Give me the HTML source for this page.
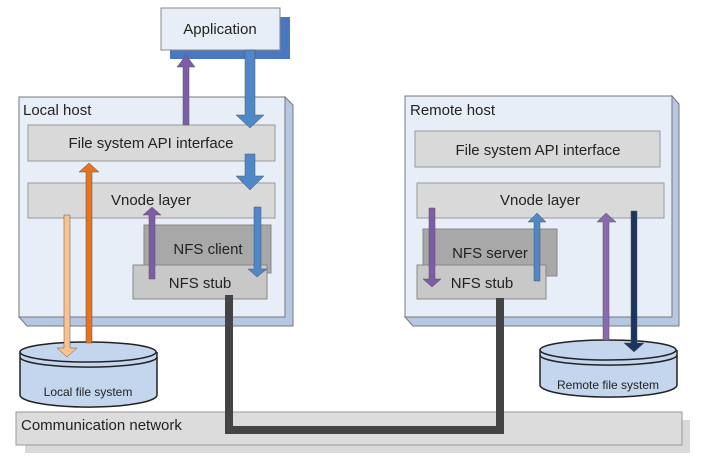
<!DOCTYPE html>
<html><head><style>body{margin:0;background:#fff}svg{display:block}text{font-family:"Liberation Sans",sans-serif;fill:#222}</style></head>
<body>
<svg width="701" height="461" viewBox="0 0 701 461" xmlns="http://www.w3.org/2000/svg">
<!-- network -->
<rect x="25" y="420" width="665" height="33" fill="#d9d9d9"/>
<rect x="16" y="412" width="666" height="33" fill="#dcdcdc" stroke="#999"/>
<text x="21" y="430" font-size="15">Communication network</text>
<!-- application -->
<rect x="170" y="17" width="120" height="42" fill="#4a78c0"/>
<rect x="161" y="8" width="119" height="42" fill="#e8eef8" stroke="#888"/>
<text x="220" y="34" font-size="15" text-anchor="middle">Application</text>
<!-- local host -->
<polygon points="285,97 293,105 293,326 27,326 19,317 285,317" fill="#b4c8e4" stroke="#777"/>
<rect x="19" y="97" width="266" height="220" fill="#e8eef8" stroke="#777"/>
<text x="23" y="115" font-size="15">Local host</text>
<rect x="28" y="125" width="247" height="36" fill="#d9d9d9" stroke="#999"/>
<text x="151" y="148" font-size="15" text-anchor="middle">File system API interface</text>
<rect x="28" y="183" width="247" height="35" fill="#d9d9d9" stroke="#999"/>
<text x="151" y="205" font-size="15" text-anchor="middle">Vnode layer</text>
<rect x="144" y="225" width="127" height="48" fill="#a8a8a8" stroke="#888"/>
<text x="208" y="254" font-size="15" text-anchor="middle">NFS client</text>
<rect x="133" y="265" width="134" height="34" fill="#c8c8c8" stroke="#888"/>
<text x="200" y="288" font-size="15" text-anchor="middle">NFS stub</text>
<!-- remote host -->
<polygon points="672,96 679,104 679,326 413,326 405,317 672,317" fill="#b4c8e4" stroke="#777"/>
<rect x="405" y="96" width="267" height="221" fill="#e8eef8" stroke="#777"/>
<text x="410" y="115" font-size="15">Remote host</text>
<rect x="415" y="131" width="245" height="36" fill="#d9d9d9" stroke="#999"/>
<text x="538" y="155" font-size="15" text-anchor="middle">File system API interface</text>
<rect x="417" y="183" width="247" height="35" fill="#d9d9d9" stroke="#999"/>
<text x="540" y="205" font-size="15" text-anchor="middle">Vnode layer</text>
<rect x="423" y="229" width="134" height="47" fill="#a8a8a8" stroke="#888"/>
<text x="490" y="258" font-size="15" text-anchor="middle">NFS server</text>
<rect x="417" y="265" width="129" height="34" fill="#c8c8c8" stroke="#888"/>
<text x="482" y="288" font-size="15" text-anchor="middle">NFS stub</text>
<!-- cylinders -->
<g stroke="#222" stroke-width="1.5" fill="#c4d6ee">
<path d="M20,352 L20,395 A68,12 0 0 0 157,395 L157,352"/>
<ellipse cx="88" cy="352" rx="68" ry="10"/>
<path d="M20,357 A68,10 0 0 0 157,357" fill="none"/>
<path d="M540,350 L540,385 A68,12 0 0 0 677,385 L677,350"/>
<ellipse cx="608" cy="350" rx="68" ry="10"/>
<path d="M540,355 A68,10 0 0 0 677,355" fill="none"/>
</g>
<text x="88" y="396" font-size="12" text-anchor="middle">Local file system</text>
<text x="608" y="389" font-size="12" text-anchor="middle">Remote file system</text>
<!-- network line -->
<polyline points="229,295 229,430 500,430 500,298" fill="none" stroke="#444" stroke-width="8"/>
<!-- arrows -->
<g stroke="#555" stroke-width="0.5">
<polygon points="183,125 189,125 189,67 195,67 186,55 177,67 183,67" fill="#7b5ea7"/>
<polygon points="245,50 255,50 255,115 264,115 250,128 236,115 245,115" fill="#4f88c9"/>
<polygon points="245,154 255,154 255,176 264,176 250,190 236,176 245,176" fill="#4f88c9"/>
<polygon points="86,343 92,343 92,172 99,172 89,163 79,172 86,172" fill="#e8731f"/>
<polygon points="64,215 70,215 70,348 77,348 67,357 57,348 64,348" fill="#fbc18e"/>
<polygon points="149,279 155,279 155,215 161,215 152,207 143,215 149,215" fill="#7b5ea7"/>
<polygon points="254,207 261,207 261,269 267,269 257,277 248,269 254,269" fill="#4f88c9"/>
<polygon points="429,208 435,208 435,279 441,279 432,287 423,279 429,279" fill="#7b5ea7"/>
<polygon points="534,281 540,281 540,222 546,222 537,213 528,222 534,222" fill="#4f88c9"/>
<polygon points="603,340 609,340 609,222 616,222 606,213 597,222 603,222" fill="#8a6aae"/>
<polygon points="631,211 637,211 637,343 644,343 634,352 624,343 631,343" fill="#1c3560"/>
</g>
</svg>
</body></html>
